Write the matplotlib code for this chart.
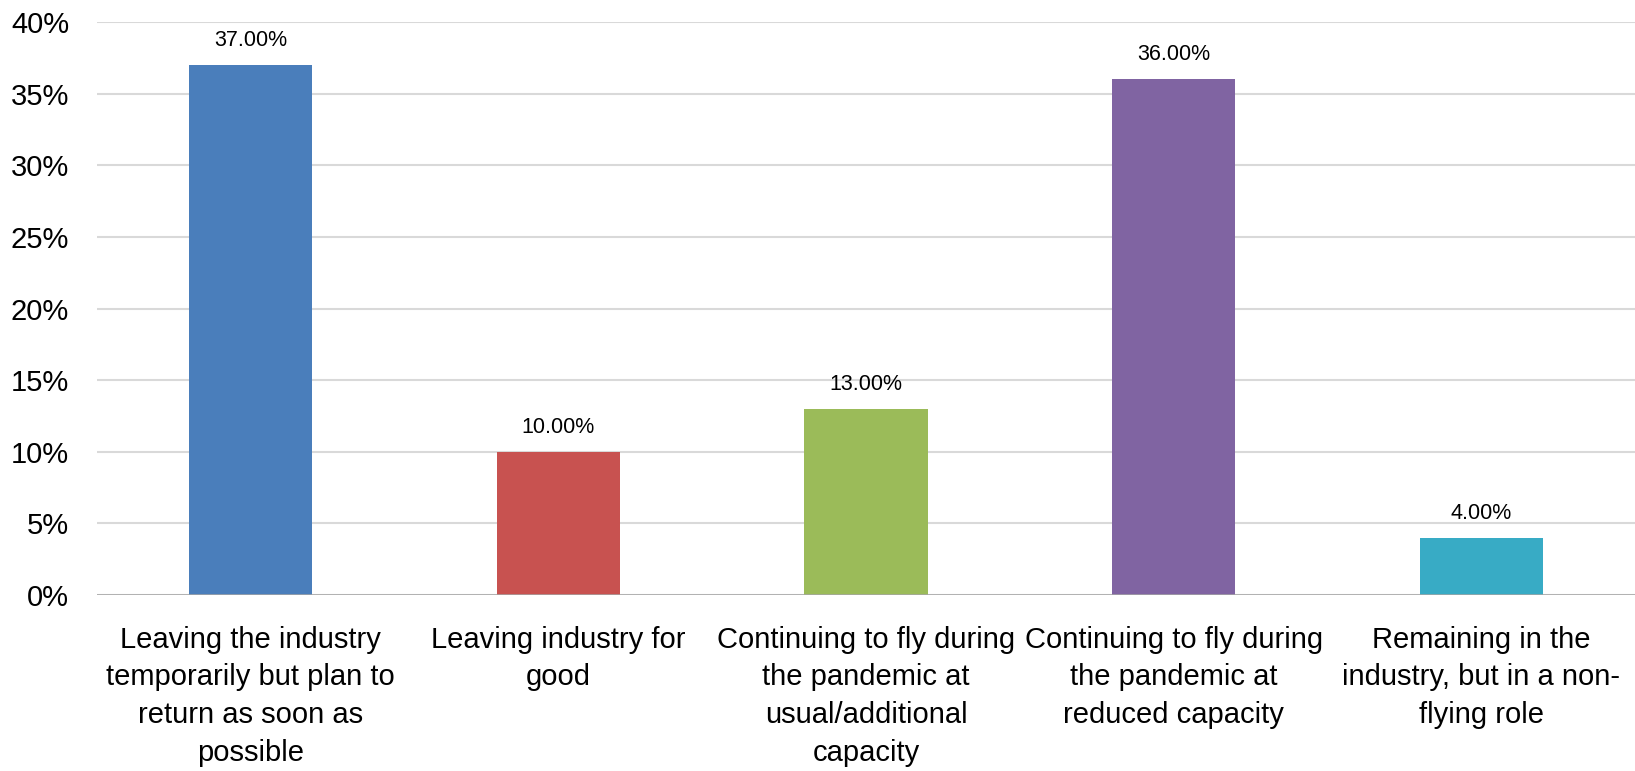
import matplotlib
matplotlib.use("Agg")
import matplotlib.pyplot as plt
from matplotlib.ticker import FuncFormatter

plt.rcParams['font.family'] = ['Liberation Sans Narrow', 'Liberation Sans', 'DejaVu Sans']

categories = [
    "Leaving the industry\ntemporarily but plan to\nreturn as soon as\npossible",
    "Leaving industry for\ngood",
    "Continuing to fly during\nthe pandemic at\nusual/additional\ncapacity",
    "Continuing to fly during\nthe pandemic at\nreduced capacity",
    "Remaining in the\nindustry, but in a non-\nflying role",
]
values = [37.0, 10.0, 13.0, 36.0, 4.0]
colors = ["#4A7EBB", "#C85250", "#9BBB59", "#8064A2", "#38ABC5"]
yticks = [0, 5, 10, 15, 20, 25, 30, 35, 40]

W, H = 1635, 771
fig = plt.figure(figsize=(W / 100, H / 100), dpi=100)
left, right, top, bottom = 97, 1635, 22, 595
ax = fig.add_axes([left / W, (H - bottom) / H, (right - left) / W, (bottom - top) / H])

x = list(range(len(values)))
bars = ax.bar(x, values, width=0.4, color=colors, zorder=3)

ax.set_xlim(-0.5, len(values) - 0.5)
ax.set_ylim(0, 40)
ax.set_yticks(yticks)
ax.yaxis.set_major_formatter(FuncFormatter(lambda v, _: f"{v:.0f}%"))
ax.grid(axis='y', color='#D9D9D9', linewidth=1.5, zorder=0)
ax.axhline(0, color='#A6A6A6', linewidth=1.8, zorder=4)

for s in ax.spines.values():
    s.set_visible(False)
ax.tick_params(axis='y', length=0, pad=20, labelsize=21, labelcolor='#000000')
ax.tick_params(axis='x', length=0, pad=22)
ax.set_xticks(x)
ax.set_xticklabels(categories, fontsize=21, linespacing=1.45)

for b, v in zip(bars, values):
    ax.annotate(f"{v:.2f}%", (b.get_x() + b.get_width() / 2, v),
                xytext=(0, 10), textcoords='offset points',
                ha='center', va='bottom', fontsize=15.5)

fig.savefig("out.png", dpi=100)
